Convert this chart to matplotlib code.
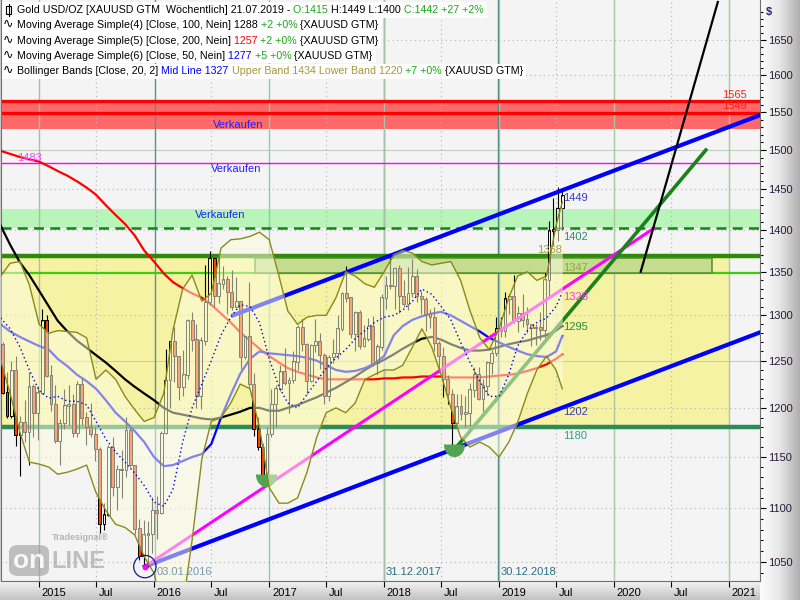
import numpy as np
import pandas as pd
import matplotlib
matplotlib.use('Agg')
import matplotlib.pyplot as plt
import matplotlib.dates as mdates
import matplotlib.patches as mpatches
import matplotlib.transforms as mtransforms
from matplotlib.colors import LinearSegmentedColormap
from matplotlib.ticker import FixedLocator, NullFormatter, FuncFormatter

plt.rcParams['font.family'] = ['Liberation Sans', 'DejaVu Sans']

W, H = 800, 600

# gold candles, one every two weeks (open = close of the bar before)
bar_dates = pd.date_range(end='2019-07-21', periods=128, freq='14D')
first_open = 1268
highs = [1270, 1238, 1250, 1255, 1192, 1208, 1238, 1225, 1223,
         1307, 1300, 1245, 1224, 1188, 1220, 1224, 1215, 1228, 1232, 1196, 1205, 1180, 1160,
         1105, 1162, 1170, 1142, 1157, 1191, 1180, 1142, 1090, 1089, 1088, 1111,
         1112, 1176, 1263, 1271, 1287, 1251, 1262, 1296, 1304, 1290, 1276, 1358, 1375,
         1360, 1367, 1357, 1345, 1352, 1344, 1316, 1277, 1338, 1237, 1191, 1164, 1180,
         1220, 1224, 1245, 1264, 1233, 1261, 1289, 1296, 1269, 1268, 1296, 1280, 1258,
         1256, 1274, 1300, 1326, 1357, 1318, 1305, 1306, 1289, 1297, 1299, 1268, 1324,
         1345, 1366, 1356, 1358, 1341, 1356, 1365, 1353, 1328, 1321, 1307, 1310, 1271,
         1265, 1235, 1220, 1214, 1214, 1212, 1226, 1243, 1243, 1230, 1250, 1262, 1298,
         1298, 1326, 1324, 1346, 1311, 1324, 1310, 1290, 1290, 1304, 1348, 1411, 1439,
         1453, 1449]
lows = [1214, 1190, 1190, 1161, 1131, 1165, 1142, 1170, 1167,
        1214, 1232, 1197, 1164, 1142, 1178, 1182, 1170, 1170, 1182, 1162, 1170, 1146, 1077,
        1080, 1093, 1112, 1098, 1110, 1130, 1140, 1076, 1052, 1046, 1046, 1058,
        1071, 1095, 1173, 1200, 1227, 1208, 1212, 1230, 1261, 1200, 1199, 1267, 1312,
        1310, 1314, 1330, 1302, 1306, 1311, 1241, 1252, 1221, 1171, 1157, 1122, 1124,
        1170, 1180, 1218, 1224, 1195, 1226, 1240, 1260, 1214, 1227, 1259, 1241, 1204,
        1207, 1248, 1252, 1282, 1315, 1275, 1261, 1263, 1265, 1272, 1244, 1236, 1262,
        1307, 1330, 1307, 1303, 1310, 1306, 1321, 1315, 1301, 1282, 1286, 1260, 1238,
        1211, 1204, 1160, 1183, 1187, 1180, 1181, 1211, 1208, 1196, 1213, 1236, 1255,
        1276, 1276, 1302, 1292, 1281, 1287, 1280, 1266, 1267, 1273, 1275, 1321, 1381,
        1386, 1400]
closes = [1216, 1192, 1239, 1172, 1185, 1175, 1222, 1195, 1216,
          1294, 1234, 1204, 1166, 1184, 1202, 1203, 1174, 1225, 1190, 1180, 1173, 1158, 1085,
          1094, 1160, 1121, 1138, 1137, 1177, 1142, 1081, 1056, 1075, 1076, 1098,
          1096, 1174, 1229, 1271, 1255, 1222, 1235, 1294, 1273, 1212, 1272, 1315, 1366,
          1322, 1336, 1341, 1326, 1310, 1316, 1254, 1276, 1225, 1178, 1160, 1132, 1173,
          1204, 1220, 1238, 1226, 1229, 1249, 1287, 1268, 1228, 1267, 1271, 1256, 1212,
          1254, 1258, 1285, 1325, 1320, 1279, 1303, 1266, 1274, 1288, 1248, 1265, 1320,
          1334, 1333, 1354, 1322, 1313, 1325, 1345, 1322, 1318, 1302, 1298, 1269, 1255,
          1230, 1214, 1184, 1201, 1194, 1195, 1219, 1235, 1209, 1223, 1248, 1258, 1285,
          1282, 1319, 1322, 1294, 1302, 1295, 1290, 1286, 1286, 1284, 1341, 1399, 1400,
          1426, 1442]

# indicator lines, read once a month from Sep 2014 to the last bar
line_dates = list(pd.date_range('2014-09-01', '2019-07-01', freq='MS')) + [pd.Timestamp('2019-07-21')]
ma200 = [1499, 1495, 1491, 1488,
         1485, 1479, 1473, 1467, 1460, 1452, 1443, 1430, 1418, 1407, 1393, 1375,
         1362, 1348, 1338, 1331, 1325, 1320, 1312, 1302, 1292, 1281, 1272, 1263,
         1255, 1248, 1242, 1238, 1235, 1232, 1230, 1230, 1230, 1230, 1230, 1230,
         1231, 1231, 1232, 1232, 1233, 1233, 1233, 1232, 1232, 1232, 1232, 1233,
         1234, 1235, 1236, 1239, 1242, 1246, 1252, 1257]
ma100 = [1405, 1382, 1361, 1346,
         1328, 1310, 1294, 1282, 1272, 1264, 1256, 1248, 1239, 1230, 1222, 1215,
         1208, 1200, 1195, 1193, 1191, 1189, 1188, 1190, 1193, 1196, 1200, 1200,
         1197, 1197, 1200, 1203, 1207, 1211, 1216, 1221, 1227, 1233, 1240, 1246,
         1251, 1257, 1263, 1269, 1274, 1276, 1273, 1268, 1264, 1261, 1261, 1262,
         1265, 1268, 1270, 1272, 1275, 1278, 1283, 1288]
ma50 = [1290, 1282, 1276, 1271,
        1266, 1262, 1252, 1244, 1235, 1228, 1220, 1208, 1195, 1186, 1176, 1165,
        1150, 1141, 1142, 1146, 1150, 1153, 1163, 1190, 1214, 1236, 1252, 1260,
        1258, 1257, 1256, 1255, 1253, 1250, 1245, 1240, 1238, 1239, 1242, 1247,
        1255, 1278, 1288, 1295, 1299, 1302, 1304, 1300, 1294, 1288, 1282, 1275,
        1270, 1265, 1261, 1257, 1255, 1254, 1260, 1277]
bb_mid = [1297, 1285, 1265, 1240,
          1218, 1210, 1212, 1207, 1207, 1203, 1186, 1168, 1155, 1145, 1134, 1122,
          1106, 1102, 1118, 1165, 1200, 1225, 1250, 1278, 1298, 1312, 1310, 1292,
          1252, 1222, 1205, 1200, 1214, 1228, 1242, 1253, 1262, 1274, 1283, 1292,
          1298, 1300, 1306, 1316, 1330, 1324, 1310, 1295, 1270, 1248, 1228, 1212,
          1212, 1235, 1266, 1283, 1292, 1297, 1310, 1326]
bb_upper = [1345, 1360, 1362, 1335,
            1290, 1280, 1283, 1282, 1281, 1275, 1230, 1240, 1230, 1212, 1198, 1186,
            1190, 1215, 1283, 1330, 1346, 1316, 1325, 1378, 1388, 1389, 1392, 1397,
            1388, 1345, 1305, 1290, 1298, 1300, 1300, 1320, 1350, 1345, 1336, 1332,
            1350, 1370, 1375, 1372, 1362, 1358, 1360, 1362, 1340, 1305, 1275, 1262,
            1285, 1320, 1345, 1350, 1340, 1345, 1405, 1434]
bb_lower = [1250, 1215, 1175, 1145,
            1143, 1140, 1133, 1135, 1138, 1142, 1115, 1098, 1085, 1082, 1075, 1055,
            1040, 1000, 990, 1010, 1070, 1148, 1186, 1190, 1205, 1225, 1220, 1180,
            1120, 1105, 1105, 1110, 1135, 1170, 1195, 1200, 1195, 1205, 1230, 1235,
            1240, 1240, 1245, 1265, 1285, 1265, 1235, 1200, 1170, 1160, 1165, 1160,
            1150, 1165, 1185, 1215, 1240, 1255, 1240, 1220]

# horizontal levels
red_zone = (1528, 1567)
red_levels = [1565, 1549]
magenta_level = 1483
green_zone = (1402, 1425)
dashed_level = 1402
resist_level = 1368
support_level = 1180
box_level = (1348, 1366)
box_dates = ['2016-11-17', '2020-11-07']
yellow_end = '2021-01-04'

# trend lines (date, price)
blue_low_dates, blue_low_prices = ['2015-12-03', '2021-04-09'], [1046, 1281]
blue_up_dates, blue_up_prices = ['2016-09-08', '2021-04-09'], [1300, 1546]
pink_dates, pink_prices = ['2015-12-03', '2020-05-08'], [1046, 1402]
green_dates, green_prices = ['2018-08-19', '2020-10-19'], [1160, 1500]
black_dates, black_prices = ['2020-03-26', '2020-06-18', '2020-11-26'], [1350, 1462, 1705]
low_marks_dates, low_marks_prices = ['2016-12-21', '2018-08-10'], [1133, 1163]

price_ticks = list(range(1050, 1651, 50))


def fxy(px, py):
    return px / W, 1 - py / H


fig = plt.figure(figsize=(W / 100, H / 100), dpi=100)
fig.patch.set_facecolor('#d0d0d0')

# grey gradients of the frame
side = fig.add_axes([760 / W, 0, 40 / W, 1])
side.imshow(np.linspace(0, 1, 64).reshape(1, -1), aspect='auto',
            cmap=LinearSegmentedColormap.from_list('side', ['#fdfdfd', '#e6e6e6', '#b0b0b0']))
side.axis('off')
bottom = fig.add_axes([0, 0, 760 / W, 19 / H])
bottom.imshow(np.linspace(0, 1, 32).reshape(-1, 1), aspect='auto',
              cmap=LinearSegmentedColormap.from_list('bar', ['#f4f4f4', '#c2c2c2']))
bottom.axis('off')

ax = fig.add_axes([1 / W, 19 / H, 759 / W, 581 / H])
ax.set_facecolor('#f4f4f4')
ax.set_yscale('log')
x0, x1 = pd.Timestamp('2014-09-02'), pd.Timestamp('2021-04-09')
ax.set_xlim(x0, x1)
ax.set_ylim(1033, 1708)

# zones
ax.axhspan(*red_zone, color='#ff6868', lw=0, zorder=0.5)
ax.axhspan(*green_zone, color='#b8f5b8', lw=0, zorder=0.5)
ax.fill_between([x0, pd.Timestamp(yellow_end)], support_level, resist_level,
                color='#f5f2a4', lw=0, zorder=0.5)

# grid
for p in price_ticks:
    if p in (1250, 1500):
        ax.axhline(p, color='#c0cec0', lw=0.8, zorder=1)
    else:
        ax.axhline(p, color='#b4b4b4', lw=0.8, ls=(0, (1, 3)), zorder=1)
for yr in range(2015, 2021):
    ax.axvline(pd.Timestamp(f'{yr}-07-01'), color='#b4b4b4', lw=0.8, ls=(0, (1, 3)), zorder=1)
year_lines = ['2015-01-01', '2016-01-03', '2017-01-01', '2017-12-31', '2018-01-01',
              '2018-12-30', '2019-01-01', '2020-01-01', '2021-01-01']
year_cols = ['#a8c0a8', '#4e9696', '#7ad6aa', '#6f9a9a', '#a8c0a8',
             '#3f8080', '#a8c0a8', '#a8c8a0', '#a8c8a0']
for d, col in zip(year_lines, year_cols):
    ax.axvline(pd.Timestamp(d), color=col, lw=1, zorder=1)

# levels
for p in red_levels:
    ax.axhline(p, color='#ff0000', lw=2.4, zorder=2)
ax.axhline(magenta_level, color='#ff00ff', lw=1, zorder=2)
ax.axhline(dashed_level, color='#1a7f1a', lw=1.8, ls=(0, (4, 2.5)), zorder=2)
ax.axhline(resist_level, color='#2f8a0a', lw=3.2, zorder=2)
ax.axhline(box_level[0], color='#3ccc10', lw=1.6, zorder=2)
ax.axhline(support_level, color='#2e8b57', lw=3.2, zorder=2)
bd0, bd1 = mdates.date2num(pd.Timestamp(box_dates[0])), mdates.date2num(pd.Timestamp(box_dates[1]))
ax.add_patch(mpatches.Rectangle((bd0, box_level[0]), bd1 - bd0, box_level[1] - box_level[0],
                                facecolor='#c4dc8e', edgecolor='#4f8f2f', lw=1.1, zorder=2.2))

# moving averages
ax.plot(line_dates, ma200, color='#ff0000', lw=1.6, zorder=3)
ax.plot(line_dates, ma100, color='#000000', lw=1.6, zorder=3)
ax.plot(line_dates, ma50, color='#0000ff', lw=1.6, zorder=3)

# candles
xs = mdates.date2num(bar_dates)
o = np.array([first_open] + closes[:-1], dtype=float)
h, l, c = np.array(highs, float), np.array(lows, float), np.array(closes, float)
top, bot = np.maximum(o, c), np.minimum(o, c)
ax.vlines(xs, l, bot, color='black', lw=0.8, zorder=4)
ax.vlines(xs, top, h, color='black', lw=0.8, zorder=4)
up = c >= o
ax.bar(xs[up], (top - bot)[up] + 0.5, bottom=bot[up], width=9, facecolor='none',
       edgecolor='black', lw=0.7, zorder=4)
ax.bar(xs[~up], (top - bot)[~up] + 0.5, bottom=bot[~up], width=9, facecolor='#ff4000',
       edgecolor='black', lw=0.7, zorder=4)

# trend lines
ax.plot(pd.to_datetime(blue_low_dates), blue_low_prices, color='#0000ff', lw=3, zorder=5)
ax.plot(pd.to_datetime(blue_up_dates), blue_up_prices, color='#0000ff', lw=3, zorder=5)
ax.plot(pd.to_datetime(pink_dates), pink_prices, color='#ff00ff', lw=2.2, zorder=5)
ax.plot(pd.to_datetime(green_dates), green_prices, color='#1a821a', lw=2.6, zorder=5)
ax.plot(pd.to_datetime(black_dates), black_prices, color='black', lw=1.6, zorder=5)
t = np.linspace(np.pi, 2 * np.pi, 30)
half_disc = np.column_stack([np.cos(t), 1.2 * np.sin(t)])
ax.scatter(pd.to_datetime(low_marks_dates), low_marks_prices, marker=half_disc, s=330,
           color='#52a352', lw=0, zorder=5)

# bollinger bands: pale veil over everything below
ax.fill_between(line_dates, bb_lower, bb_upper, color='#fdfde0', alpha=0.52, lw=0, zorder=6)
ax.plot(line_dates, bb_upper, color='#8a8a1a', lw=1, zorder=7)
ax.plot(line_dates, bb_lower, color='#8a8a1a', lw=1, zorder=7)
ax.plot(line_dates, bb_mid, color='#0000ee', lw=1, ls=(0, (1, 2)), zorder=7)

ax.scatter([pd.Timestamp(blue_low_dates[0])], [blue_low_prices[0]], s=260, facecolor='none',
           edgecolor='#1a1a8a', lw=0.9, zorder=8)
ax.scatter([pd.Timestamp(pink_dates[0])], [pink_prices[0]], s=10, color='#ff00ff', zorder=8)

# value labels
fs = 8
lab = [('2019-07-25', 1439, '1449', '#3a3ad8'), ('2019-07-25', 1391, '1402', '#2e8b6b'),
       ('2019-05-01', 1376, '1368', '#a0a040'), ('2019-07-25', 1354, '1347', '#8aaa40'),
       ('2019-07-25', 1321, '1328', '#ff33ff'), ('2019-07-25', 1287, '1295', '#2a8a3a'),
       ('2019-07-25', 1196, '1202', '#3a3ab0'), ('2019-07-25', 1171, '1180', '#3a9a8a'),
       ('2014-10-23', 1490, '1483', '#ff44ff'), ('2020-12-09', 1573, '1565', '#ff2020'),
       ('2020-12-09', 1558, '1549', '#ff2020'),
       ('2016-07-06', 1533, 'Verkaufen', '#2020ff'), ('2016-06-30', 1476, 'Verkaufen', '#2020ff'),
       ('2016-05-10', 1418, 'Verkaufen', '#2020ff'),
       ('2016-01-10', 1041, '03.01.2016', '#7a9aa8'), ('2018-01-07', 1041, '31.12.2017', '#2a7080'),
       ('2019-01-07', 1041, '30.12.2018', '#2a7080')]
for d, p, s, col in lab:
    ax.text(pd.Timestamp(d), p, s, color=col, fontsize=fs, ha='left', va='center', zorder=9)

# axes styling
ax.spines['top'].set_visible(False)
for side_name in ('left', 'bottom', 'right'):
    ax.spines[side_name].set_color('#707070')
ax.yaxis.tick_right()
ax.yaxis.set_major_locator(FixedLocator(price_ticks))
ax.yaxis.set_minor_locator(FixedLocator([p for p in range(1040, 1710, 10) if p % 50]))
ax.yaxis.set_major_formatter(FuncFormatter(lambda v, pos: f'{v:.0f}'))
ax.yaxis.set_minor_formatter(NullFormatter())
ax.tick_params(axis='y', which='major', direction='out', length=4, pad=2,
               labelsize=8, labelcolor='#2a1a3a', color='black', width=0.8)
ax.tick_params(axis='y', which='minor', direction='out', length=2.5, color='black', width=0.8)
xt = [pd.Timestamp(f'{yr}-{m:02d}-01') for yr in range(2015, 2022) for m in (1, 7)][:-1]
ax.set_xticks(xt)
ax.set_xticklabels([str(d.year) if d.month == 1 else 'Jul' for d in xt])
ax.tick_params(axis='x', direction='out', length=4, pad=1, labelsize=8, color='black', width=0.8)
shift = mtransforms.ScaledTranslation(2 / 72, 0, fig.dpi_scale_trans)
for tl in ax.get_xticklabels():
    tl.set_ha('left')
    tl.set_transform(tl.get_transform() + shift)

fig.text(*fxy(766, 12), '$', fontsize=8, weight='bold', color='#2a2a6a', va='center')

# legend rows
renderer = fig.canvas.get_renderer()
green, olive = '#18a818', '#a8963a'
rows = [
    [('Gold USD/OZ [XAUUSD GTM  Wöchentlich] 21.07.2019 - ', 'black'), ('O:1415 ', green),
     ('H:1449 L:1400 ', 'black'), ('C:1442 +27 +2%', green)],
    [('Moving Average Simple(4) [Close, 100, Nein] 1288 ', 'black'), ('+2 +0% ', green),
     ('{XAUUSD GTM}', 'black')],
    [('Moving Average Simple(5) [Close, 200, Nein] ', 'black'), ('1257 ', '#ff0000'),
     ('+2 +0% ', green), ('{XAUUSD GTM}', 'black')],
    [('Moving Average Simple(6) [Close, 50, Nein] ', 'black'), ('1277 ', '#0000ff'),
     ('+5 +0% ', green), ('{XAUUSD GTM}', 'black')],
    [('Bollinger Bands [Close, 20, 2] ', 'black'), ('Mid Line 1327 ', '#0000ff'),
     ('Upper Band 1434 Lower Band 1220 ', olive), ('+7 +0% ', green), ('{XAUUSD GTM}', 'black')],
]
for i, row in enumerate(rows):
    py = 10 + i * 15.3
    x = 17
    for txt, col in row:
        tx = fig.text(*fxy(x, py), txt, color=col, fontsize=7.7, ha='left', va='center', zorder=11)
        x += tx.get_window_extent(renderer).width
    fig.add_artist(mpatches.Rectangle(fxy(2, py + 7.5), (x + 3 - 2) / W, 15 / H,
                                      transform=fig.transFigure, facecolor='white',
                                      edgecolor='none', zorder=10))
    if i == 0:
        fig.add_artist(mpatches.Rectangle(fxy(6, py + 3.5), 5 / W, 7 / H, transform=fig.transFigure,
                                          facecolor='white', edgecolor='black', lw=0.8, zorder=11))
        fig.add_artist(plt.Line2D([8.5 / W, 8.5 / W], [1 - (py - 6) / H, 1 - (py + 6) / H],
                                  color='black', lw=0.8, zorder=11))
    else:
        fig.text(*fxy(3, py), '∿', fontsize=9, ha='left', va='center', zorder=11)

# logo
fig.add_artist(mpatches.FancyBboxPatch(fxy(9, 576), 40 / W, 31 / H,
                                       boxstyle='round,pad=0,rounding_size=0.012',
                                       transform=fig.transFigure, facecolor='#9a9a9a',
                                       edgecolor='none', alpha=0.6, zorder=10))
fig.text(*fxy(29, 561), 'on', color='white', fontsize=19, weight='bold', ha='center',
         va='center', alpha=0.9, zorder=11)
fig.text(*fxy(51, 561), 'LINE', color='#9a9a9a', fontsize=17, weight='bold', ha='left',
         va='center', alpha=0.6, zorder=11)
fig.text(*fxy(52, 538), 'Tradesignal®', color='#a0a0a0', fontsize=6.5, weight='bold',
         ha='left', va='center', alpha=0.75, zorder=11)

fig.savefig('out.png', dpi=100, facecolor=fig.get_facecolor())
